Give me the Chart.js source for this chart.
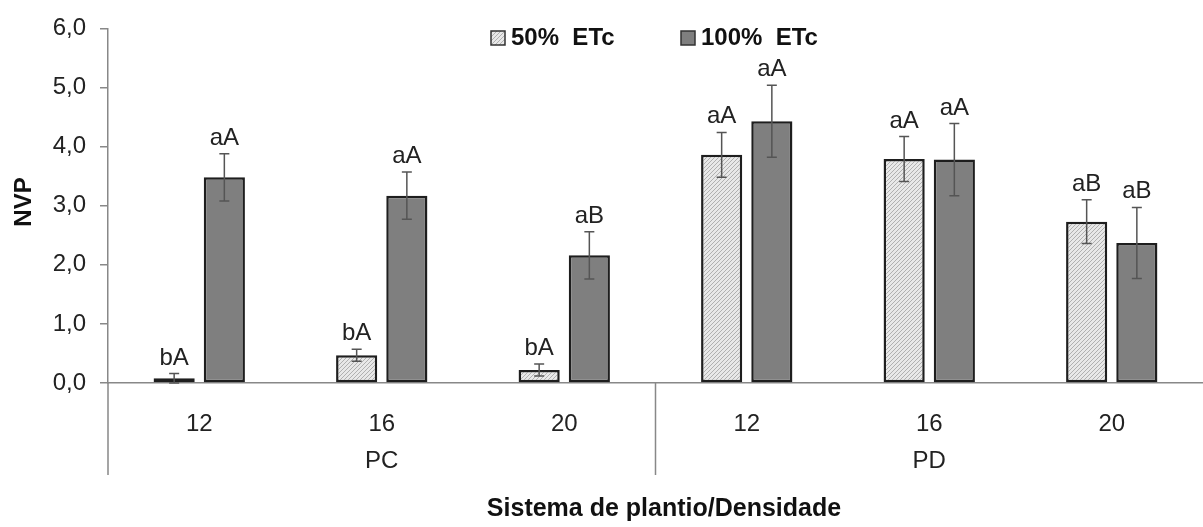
<!DOCTYPE html>
<html>
<head>
<meta charset="utf-8">
<script src="https://cdn.jsdelivr.net/npm/chart.js@4.4.0/dist/chart.umd.min.js"></script>
<style>
  html, body { margin: 0; padding: 0; background: #fff; }
  #wrap { width: 1203px; height: 527px; }
</style>
</head>
<body>
<div id="wrap"><canvas id="chart1" width="1203" height="527"></canvas></div>
<script>
// densities and systems
const densities = ["12", "16", "20", "12", "16", "20"];
const systems = ["PC", "PD"];

// NVP means
const etc50 = [0.08, 0.47, 0.22, 3.86, 3.79, 2.73];
const etc100 = [3.48, 3.17, 2.16, 4.43, 3.78, 2.37];

// standard errors
const err50 = [0.08, 0.10, 0.10, 0.38, 0.38, 0.37];
const err100 = [0.40, 0.40, 0.40, 0.61, 0.61, 0.60];

// letters over the bars
const letters50 = ["bA", "bA", "bA", "aA", "aA", "aB"];
const letters100 = ["aA", "aA", "aB", "aA", "aA", "aB"];

const FONT = "'Liberation Sans', Arial, Helvetica, sans-serif";
Chart.defaults.font.family = FONT;

// hatch pattern for the 50% bars
function hatch() {
  const c = document.createElement('canvas');
  c.width = 4; c.height = 4;
  const g = c.getContext('2d');
  g.fillStyle = '#e8e8e8';
  g.fillRect(0, 0, 4, 4);
  g.strokeStyle = '#b0b0b0';
  g.lineWidth = 1;
  g.beginPath();
  g.moveTo(0, 4); g.lineTo(4, 0);
  g.moveTo(-1, 1); g.lineTo(1, -1);
  g.moveTo(3, 5); g.lineTo(5, 3);
  g.stroke();
  return document.createElement('canvas').getContext('2d').createPattern(c, 'repeat');
}
const hatchFill = hatch();

// error bars and letters
const errorBars = {
  id: 'errorBars',
  afterDatasetsDraw(chart) {
    const ctx = chart.ctx;
    const y = chart.scales.y;
    const errs = [err50, err100];
    const lets = [letters50, letters100];
    ctx.save();
    chart.data.datasets.forEach((ds, di) => {
      chart.getDatasetMeta(di).data.forEach((bar, i) => {
        const v = ds.data[i];
        const top = y.getPixelForValue(v + errs[di][i]);
        const bot = y.getPixelForValue(Math.max(0, v - errs[di][i]));
        ctx.strokeStyle = '#555';
        ctx.lineWidth = 1.5;
        ctx.beginPath();
        ctx.moveTo(bar.x, top); ctx.lineTo(bar.x, bot);
        ctx.moveTo(bar.x - 5, top); ctx.lineTo(bar.x + 5, top);
        ctx.moveTo(bar.x - 5, bot); ctx.lineTo(bar.x + 5, bot);
        ctx.stroke();
        ctx.fillStyle = '#222';
        ctx.font = '24px ' + FONT;
        ctx.textAlign = 'center';
        ctx.textBaseline = 'alphabetic';
        ctx.fillText(lets[di][i], bar.x, top - 9);
      });
    });
    ctx.restore();
  }
};

// legend, group labels, titles, axis extensions
const extras = {
  id: 'extras',
  afterDraw(chart) {
    const ctx = chart.ctx;
    const a = chart.chartArea;
    const x = chart.scales.x;
    ctx.save();
    // y axis continues below the x axis, and the divider between systems
    const mid = (x.getPixelForValue(2) + x.getPixelForValue(3)) / 2;
    ctx.strokeStyle = '#888';
    ctx.lineWidth = 1.5;
    ctx.beginPath();
    ctx.moveTo(a.left, a.bottom); ctx.lineTo(a.left, 475);
    ctx.moveTo(mid, a.bottom); ctx.lineTo(mid, 475);
    ctx.stroke();
    // system labels
    ctx.fillStyle = '#222';
    ctx.font = '24px ' + FONT;
    ctx.textAlign = 'center';
    ctx.textBaseline = 'middle';
    ctx.fillText(systems[0], (a.left + mid) / 2, 461);
    ctx.fillText(systems[1], (mid + a.right) / 2, 461);
    // axis titles
    ctx.fillStyle = '#111';
    ctx.font = 'bold 25px ' + FONT;
    ctx.fillText('Sistema de plantio/Densidade', 664, 509);
    ctx.save();
    ctx.translate(24, 202);
    ctx.rotate(-Math.PI / 2);
    ctx.font = 'bold 24px ' + FONT;
    ctx.fillText('NVP', 0, 0);
    ctx.restore();
    // legend
    const items = [
      { text: '50%  ETc', fill: hatchFill, bx: 491 },
      { text: '100%  ETc', fill: '#7f7f7f', bx: 681 }
    ];
    ctx.font = 'bold 24px ' + FONT;
    ctx.textAlign = 'left';
    ctx.textBaseline = 'middle';
    items.forEach(it => {
      ctx.fillStyle = it.fill;
      ctx.fillRect(it.bx, 31, 14, 14);
      ctx.strokeStyle = '#333';
      ctx.lineWidth = 1.5;
      ctx.strokeRect(it.bx, 31, 14, 14);
      ctx.fillStyle = '#111';
      ctx.fillText(it.text, it.bx + 20, 38);
    });
    ctx.restore();
  }
};

const chart = new Chart(document.getElementById('chart1').getContext('2d'), {
  type: 'bar',
  data: {
    labels: densities,
    datasets: [
      {
        label: '50% ETc',
        data: etc50,
        backgroundColor: hatchFill,
        borderColor: '#1e1e1e',
        borderWidth: 2.5,
        borderSkipped: false,
        categoryPercentage: 0.55,
        barPercentage: 0.82
      },
      {
        label: '100% ETc',
        data: etc100,
        backgroundColor: '#7f7f7f',
        borderColor: '#1e1e1e',
        borderWidth: 2.5,
        borderSkipped: false,
        categoryPercentage: 0.55,
        barPercentage: 0.82
      }
    ]
  },
  options: {
    responsive: false,
    animation: false,
    devicePixelRatio: 1,
    layout: { padding: { top: 27, left: 0, right: 0, bottom: 0 } },
    plugins: {
      legend: { display: false },
      tooltip: { enabled: false }
    },
    scales: {
      x: {
        grid: { display: false },
        border: { color: '#888', width: 1.5 },
        ticks: { color: '#222', font: { size: 24 }, padding: 19 },
        afterFit(s) { s.height = 144; }
      },
      y: {
        min: 0,
        max: 6,
        ticks: {
          stepSize: 1,
          color: '#222',
          font: { size: 24 },
          padding: 14,
          callback: v => v.toFixed(1).replace('.', ',')
        },
        grid: { drawOnChartArea: false, tickLength: 8, color: '#888', lineWidth: 1.5 },
        border: { color: '#888', width: 1.5 },
        afterFit(s) { s.width = 108; }
      }
    }
  },
  plugins: [errorBars, extras]
});
</script>
</body>
</html>
